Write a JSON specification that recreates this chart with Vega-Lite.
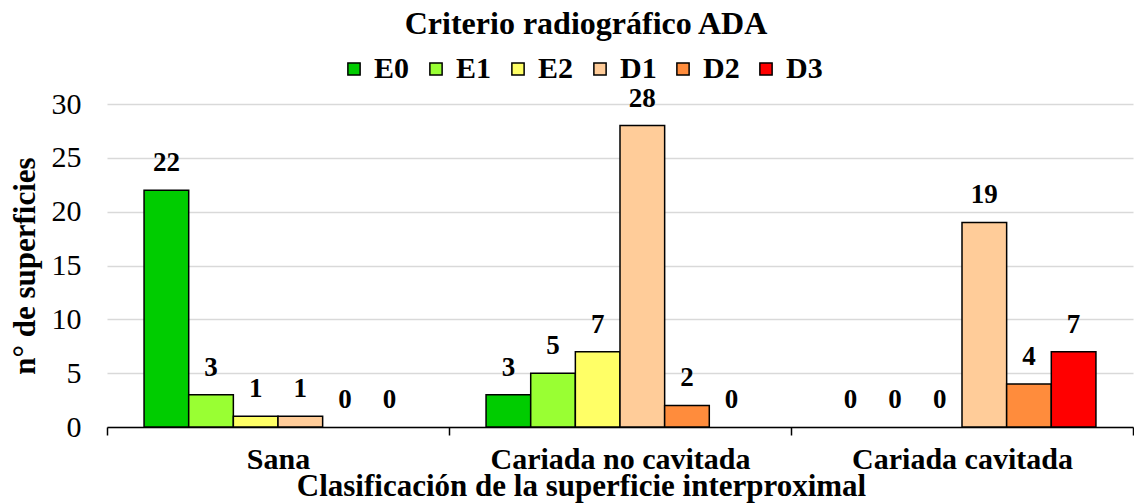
{
  "$schema": "https://vega.github.io/schema/vega-lite/v6.json",
  "width": 1026,
  "height": 323,
  "autosize": {"type": "none"},
  "padding": {"left": 107, "top": 104, "right": 1, "bottom": 77},
  "background": "white",
  "config": {"font": "Liberation Serif", "view": {"stroke": null}},
  "title": {
    "text": "Criterio radiográfico ADA",
    "fontSize": 32,
    "fontWeight": "bold",
    "font": "Liberation Serif",
    "color": "black",
    "anchor": "middle",
    "frame": "group",
    "dx": -34,
    "offset": 13
  },
  "data": {
    "values": [
      {"grupo": "Sana", "criterio": "E0", "n": 22},
      {"grupo": "Sana", "criterio": "E1", "n": 3},
      {"grupo": "Sana", "criterio": "E2", "n": 1},
      {"grupo": "Sana", "criterio": "D1", "n": 1},
      {"grupo": "Sana", "criterio": "D2", "n": 0},
      {"grupo": "Sana", "criterio": "D3", "n": 0},
      {"grupo": "Cariada no cavitada", "criterio": "E0", "n": 3},
      {"grupo": "Cariada no cavitada", "criterio": "E1", "n": 5},
      {"grupo": "Cariada no cavitada", "criterio": "E2", "n": 7},
      {"grupo": "Cariada no cavitada", "criterio": "D1", "n": 28},
      {"grupo": "Cariada no cavitada", "criterio": "D2", "n": 2},
      {"grupo": "Cariada no cavitada", "criterio": "D3", "n": 0},
      {"grupo": "Cariada cavitada", "criterio": "E0", "n": 0},
      {"grupo": "Cariada cavitada", "criterio": "E1", "n": 0},
      {"grupo": "Cariada cavitada", "criterio": "E2", "n": 0},
      {"grupo": "Cariada cavitada", "criterio": "D1", "n": 19},
      {"grupo": "Cariada cavitada", "criterio": "D2", "n": 4},
      {"grupo": "Cariada cavitada", "criterio": "D3", "n": 7}
    ]
  },
  "encoding": {
    "x": {
      "field": "grupo",
      "type": "nominal",
      "sort": ["Sana", "Cariada no cavitada", "Cariada cavitada"],
      "scale": {"paddingInner": 0, "paddingOuter": 0},
      "axis": {
        "title": "Clasificación de la superficie interproximal",
        "titleFont": "Liberation Serif",
        "titleFontSize": 31,
        "titleFontWeight": "bold",
        "titleColor": "black",
        "titlePadding": -3,
        "titleX": 474,
        "titleAlign": "center",
        "labelAngle": 0,
        "labelLimit": 0,
        "labelFont": "Liberation Serif",
        "labelFontSize": 30,
        "labelFontWeight": "bold",
        "labelColor": "black",
        "labelPadding": 9,
        "tickBand": "extent",
        "domainColor": "black",
        "domainWidth": 1.5,
        "tickColor": "black",
        "tickWidth": 1.5,
        "tickSize": 8
      }
    },
    "xOffset": {
      "field": "criterio",
      "type": "nominal",
      "sort": ["E0", "E1", "E2", "D1", "D2", "D3"],
      "scale": {"paddingInner": 0, "paddingOuter": 0.83}
    },
    "y": {
      "field": "n",
      "type": "quantitative",
      "scale": {"domain": [0, 30], "nice": false},
      "axis": {
        "title": "n° de superficies",
        "titleFont": "Liberation Serif",
        "titleFontSize": 31,
        "titleFontWeight": "bold",
        "titleColor": "black",
        "titlePadding": 10,
        "values": [0, 5, 10, 15, 20, 25, 30],
        "labelFont": "Liberation Serif",
        "labelFontSize": 30,
        "labelColor": "black",
        "labelPadding": 26,
        "domain": false,
        "ticks": false,
        "grid": true,
        "gridColor": "#d9d9d9",
        "gridWidth": 1.5
      }
    }
  },
  "layer": [
    {
      "transform": [{"filter": "datum.n > 0"}],
      "mark": {"type": "bar", "stroke": "black", "strokeWidth": 1.5},
      "encoding": {
        "color": {
          "field": "criterio",
          "type": "nominal",
          "sort": ["E0", "E1", "E2", "D1", "D2", "D3"],
          "scale": {
            "domain": ["E0", "E1", "E2", "D1", "D2", "D3"],
            "range": ["#00cc00", "#99ff33", "#ffff66", "#ffcc99", "#ff8c3c", "#ff0000"]
          },
          "legend": {
            "title": null,
            "orient": "none",
            "direction": "horizontal",
            "legendX": 232,
            "legendY": -50,
            "symbolType": "square",
            "symbolSize": 150,
            "symbolStrokeColor": "black",
            "symbolStrokeWidth": 1.5,
            "symbolOpacity": 1,
            "labelFont": "Liberation Serif",
            "labelFontSize": 30,
            "labelFontWeight": "bold",
            "labelColor": "black",
            "labelOffset": 5,
            "columnPadding": 11
          }
        }
      }
    },
    {
      "mark": {"type": "text", "baseline": "alphabetic", "dy": -19, "fontSize": 27, "fontWeight": "bold", "font": "Liberation Serif", "color": "black"},
      "encoding": {
        "text": {"field": "n", "type": "quantitative"}
      }
    }
  ]
}
